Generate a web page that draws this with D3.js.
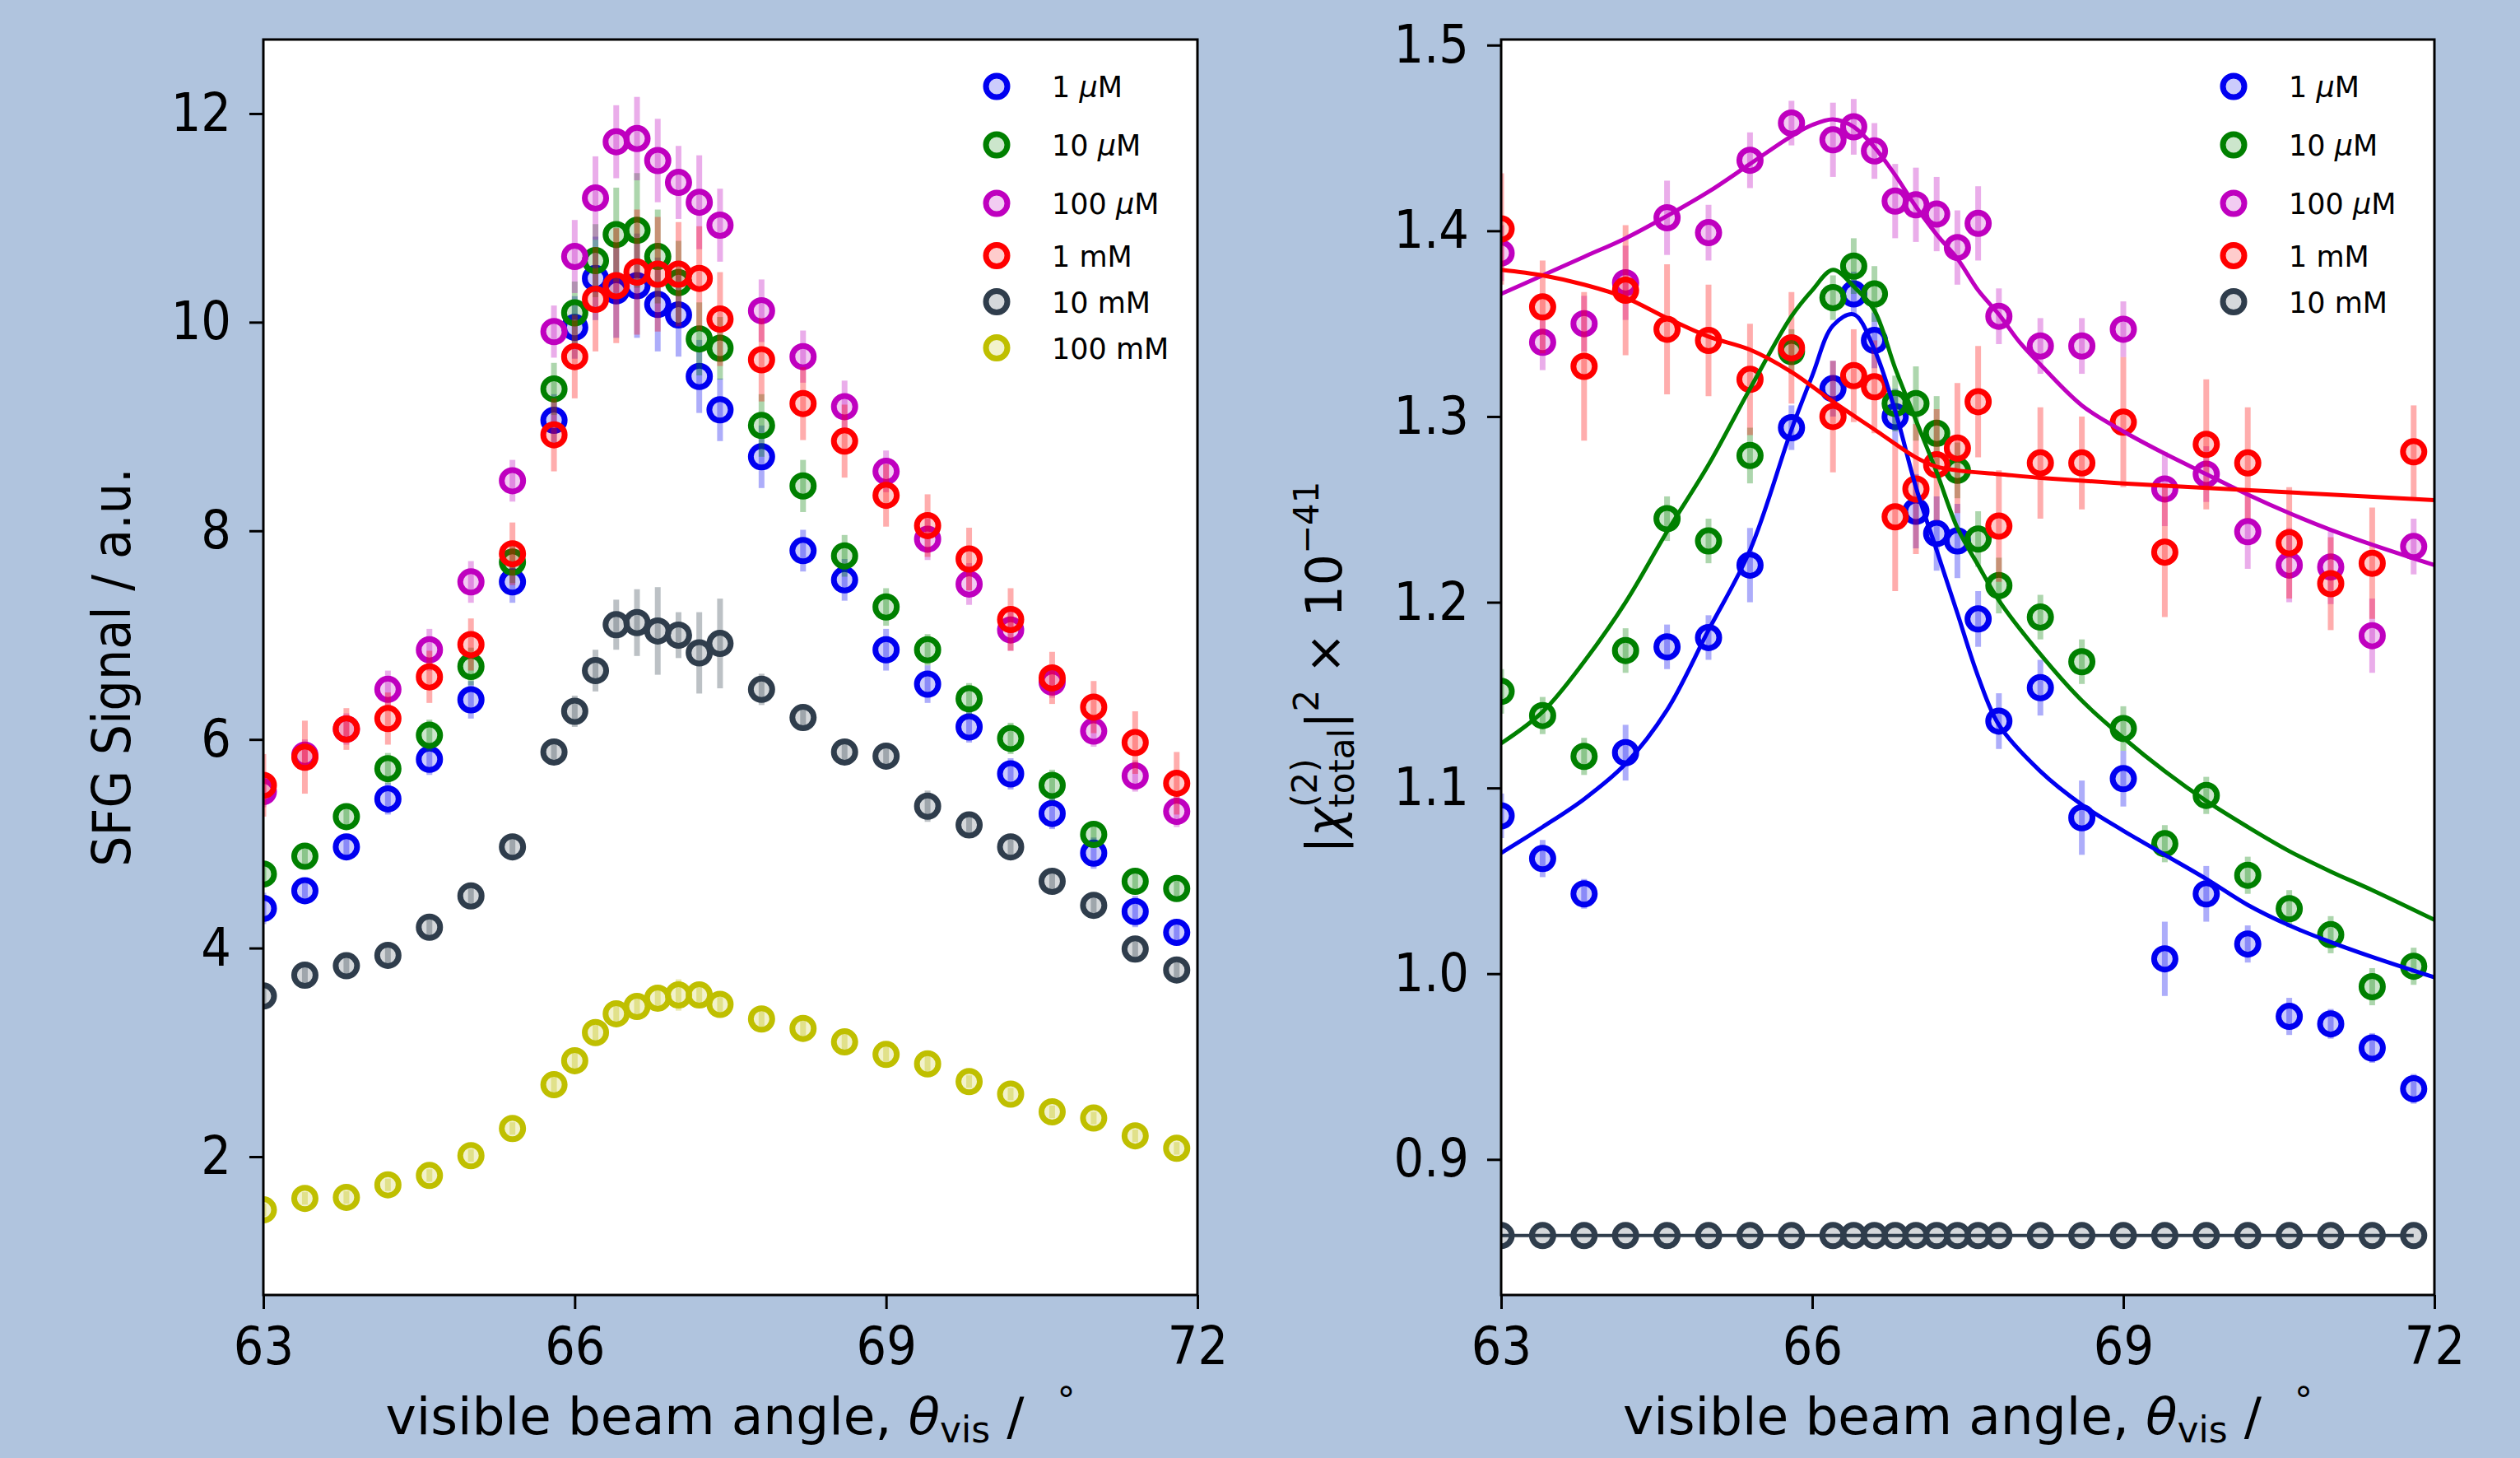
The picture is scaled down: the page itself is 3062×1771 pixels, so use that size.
<!DOCTYPE html>
<html>
<head>
<meta charset="utf-8">
<script src="https://cdn.jsdelivr.net/npm/d3@7"></script>
<style>
  body { margin: 0; background: #b0c4de; }
  svg { display: block; }
  text { font-family: "DejaVu Sans", sans-serif; fill: #000; }
</style>
</head>
<body>
<div id="chart"></div>
<script>
// ---- data: left panel (SFG signal) ----
const xLeft = [63.0, 63.4, 63.8, 64.2, 64.6, 65.0, 65.4, 65.8, 66.0, 66.2, 66.4, 66.6, 66.8, 67.0, 67.2, 67.4, 67.8, 68.2, 68.6, 69.0, 69.4, 69.8, 70.2, 70.6, 71.0, 71.4, 71.8];
const left1uM   = [4.38, 4.55, 4.97, 5.43, 5.81, 6.38, 7.51, 9.06, 9.95, 10.42, 10.30, 10.35, 10.17, 10.07, 9.48, 9.16, 8.71, 7.81, 7.53, 6.86, 6.53, 6.12, 5.67, 5.29, 4.91, 4.35, 4.15];
const left10uM  = [4.71, 4.88, 5.26, 5.72, 6.04, 6.70, 7.70, 9.36, 10.09, 10.59, 10.84, 10.88, 10.63, 10.38, 9.84, 9.75, 9.01, 8.43, 7.76, 7.27, 6.86, 6.39, 6.01, 5.56, 5.09, 4.64, 4.57];
const left100uM = [5.50, 5.85, 6.10, 6.48, 6.86, 7.51, 8.48, 9.91, 10.63, 11.19, 11.73, 11.76, 11.55, 11.34, 11.15, 10.93, 10.11, 9.67, 9.19, 8.57, 7.92, 7.49, 7.05, 6.55, 6.08, 5.65, 5.31];
const left1mM   = [5.56, 5.83, 6.10, 6.20, 6.60, 6.91, 7.78, 8.92, 9.67, 10.22, 10.35, 10.48, 10.46, 10.46, 10.42, 10.03, 9.64, 9.22, 8.86, 8.34, 8.05, 7.73, 7.15, 6.59, 6.31, 5.97, 5.58];
const left10mM  = [3.54, 3.74, 3.83, 3.93, 4.20, 4.50, 4.97, 5.88, 6.27, 6.66, 7.10, 7.12, 7.04, 7.00, 6.83, 6.92, 6.48, 6.21, 5.88, 5.84, 5.36, 5.18, 4.97, 4.64, 4.41, 3.99, 3.79];
const left100mM = [1.49, 1.60, 1.61, 1.73, 1.82, 2.01, 2.27, 2.69, 2.92, 3.19, 3.37, 3.44, 3.52, 3.55, 3.55, 3.46, 3.32, 3.23, 3.10, 2.98, 2.89, 2.72, 2.60, 2.43, 2.37, 2.20, 2.08];

const leftErr1uM   = [0.15, 0.12, 0.12, 0.15, 0.15, 0.18, 0.2, 0.25, 0.3, 0.4, 0.45, 0.5, 0.45, 0.4, 0.35, 0.3, 0.3, 0.2, 0.2, 0.2, 0.18, 0.15, 0.15, 0.15, 0.15, 0.15, 0.12];
const leftErr10uM  = [0.12, 0.12, 0.12, 0.15, 0.15, 0.18, 0.2, 0.25, 0.3, 0.35, 0.45, 0.55, 0.45, 0.4, 0.35, 0.3, 0.3, 0.25, 0.2, 0.18, 0.15, 0.15, 0.15, 0.15, 0.12, 0.12, 0.12];
const leftErr100uM = [0.15, 0.15, 0.15, 0.18, 0.2, 0.2, 0.2, 0.25, 0.35, 0.4, 0.35, 0.4, 0.4, 0.35, 0.45, 0.35, 0.3, 0.25, 0.25, 0.2, 0.2, 0.2, 0.2, 0.15, 0.15, 0.15, 0.15];
const leftErr1mM   = [0.3, 0.35, 0.2, 0.25, 0.25, 0.25, 0.3, 0.35, 0.4, 0.5, 0.55, 0.6, 0.55, 0.5, 0.5, 0.45, 0.4, 0.35, 0.35, 0.3, 0.3, 0.3, 0.3, 0.25, 0.25, 0.3, 0.3];
const leftErr10mM  = [0.08, 0.08, 0.08, 0.1, 0.1, 0.1, 0.12, 0.12, 0.15, 0.2, 0.24, 0.32, 0.42, 0.22, 0.39, 0.43, 0.15, 0.12, 0.12, 0.12, 0.15, 0.12, 0.1, 0.12, 0.12, 0.12, 0.1];
const leftErr100mM = [0.06, 0.06, 0.06, 0.06, 0.06, 0.06, 0.06, 0.08, 0.08, 0.1, 0.1, 0.12, 0.12, 0.15, 0.12, 0.1, 0.08, 0.08, 0.08, 0.08, 0.08, 0.06, 0.06, 0.06, 0.06, 0.06, 0.06];

// ---- data: right panel (|chi|^2) ----
const xRight = [63.0, 63.4, 63.8, 64.2, 64.6, 65.0, 65.4, 65.8, 66.2, 66.4, 66.6, 66.8, 67.0, 67.2, 67.4, 67.6, 67.8, 68.2, 68.6, 69.0, 69.4, 69.8, 70.2, 70.6, 71.0, 71.4, 71.8];
const right1uM   = [1.085, 1.062, 1.043, 1.119, 1.176, 1.181, 1.220, 1.294, 1.315, 1.366, 1.341, 1.300, 1.249, 1.237, 1.233, 1.191, 1.136, 1.154, 1.084, 1.105, 1.008, 1.043, 1.016, 0.977, 0.973, 0.960, 0.938];
const right10uM  = [1.152, 1.139, 1.117, 1.174, 1.245, 1.233, 1.279, 1.335, 1.364, 1.381, 1.366, 1.307, 1.307, 1.291, 1.271, 1.234, 1.209, 1.192, 1.168, 1.132, 1.070, 1.096, 1.053, 1.035, 1.021, 0.993, 1.004];
const right100uM = [1.388, 1.340, 1.350, 1.372, 1.407, 1.399, 1.438, 1.458, 1.449, 1.456, 1.443, 1.416, 1.414, 1.409, 1.391, 1.404, 1.354, 1.338, 1.338, 1.347, 1.261, 1.269, 1.238, 1.220, 1.219, 1.182, 1.230];
const right1mM   = [1.401, 1.359, 1.327, 1.368, 1.347, 1.341, 1.320, 1.337, 1.300, 1.322, 1.316, 1.246, 1.261, 1.274, 1.283, 1.308, 1.241, 1.275, 1.275, 1.297, 1.227, 1.285, 1.275, 1.232, 1.210, 1.221, 1.281];
const right10mM  = [0.859, 0.859, 0.859, 0.859, 0.859, 0.859, 0.859, 0.859, 0.859, 0.859, 0.859, 0.859, 0.859, 0.859, 0.859, 0.859, 0.859, 0.859, 0.859, 0.859, 0.859, 0.859, 0.859, 0.859, 0.859, 0.859, 0.859];

const rightErr1uM   = [0.012, 0.01, 0.008, 0.015, 0.012, 0.012, 0.02, 0.012, 0.015, 0.012, 0.015, 0.015, 0.02, 0.02, 0.02, 0.015, 0.015, 0.015, 0.02, 0.015, 0.02, 0.015, 0.01, 0.01, 0.008, 0.008, 0.008];
const rightErr10uM  = [0.012, 0.01, 0.01, 0.012, 0.012, 0.012, 0.015, 0.012, 0.012, 0.015, 0.015, 0.015, 0.02, 0.02, 0.015, 0.015, 0.015, 0.012, 0.012, 0.012, 0.01, 0.01, 0.01, 0.01, 0.01, 0.01, 0.01];
const rightErr100uM = [0.015, 0.015, 0.015, 0.02, 0.02, 0.015, 0.015, 0.012, 0.02, 0.015, 0.015, 0.02, 0.02, 0.02, 0.02, 0.02, 0.015, 0.015, 0.015, 0.015, 0.02, 0.015, 0.02, 0.02, 0.02, 0.02, 0.015];
const rightErr1mM   = [0.03, 0.025, 0.04, 0.035, 0.035, 0.03, 0.03, 0.03, 0.03, 0.025, 0.025, 0.04, 0.035, 0.03, 0.035, 0.03, 0.03, 0.03, 0.025, 0.035, 0.035, 0.035, 0.03, 0.03, 0.025, 0.03, 0.025];
const rightErr10mM  = [0, 0, 0, 0, 0, 0, 0, 0, 0, 0, 0, 0, 0, 0, 0, 0, 0, 0, 0, 0, 0, 0, 0, 0, 0, 0, 0];

// fitted curves
const fitBlueX  = [63.0, 63.4, 63.8, 64.2, 64.6, 65.0, 65.4, 65.8, 66.0, 66.2, 66.4, 66.6, 66.8, 67.0, 67.2, 67.4, 67.6, 67.8, 68.2, 68.6, 69.0, 69.4, 69.8, 70.2, 70.6, 71.0, 71.4, 72.0];
const fitBlueY  = [1.065, 1.079, 1.094, 1.113, 1.142, 1.185, 1.228, 1.293, 1.322, 1.349, 1.355, 1.336, 1.303, 1.262, 1.228, 1.194, 1.160, 1.134, 1.109, 1.091, 1.077, 1.064, 1.051, 1.037, 1.026, 1.017, 1.009, 0.998];
const fitGreenX = [63.0, 63.4, 63.8, 64.2, 64.6, 65.0, 65.4, 65.8, 66.0, 66.2, 66.4, 66.6, 66.8, 67.0, 67.2, 67.4, 67.6, 67.8, 68.2, 68.6, 69.0, 69.4, 69.8, 70.2, 70.6, 71.0, 71.4, 72.0];
const fitGreenY = [1.124, 1.141, 1.168, 1.200, 1.238, 1.274, 1.315, 1.354, 1.368, 1.379, 1.370, 1.357, 1.326, 1.298, 1.270, 1.240, 1.220, 1.201, 1.172, 1.147, 1.127, 1.109, 1.093, 1.079, 1.066, 1.055, 1.045, 1.029];
const fitMagX   = [63.0, 63.4, 63.8, 64.2, 64.6, 65.0, 65.4, 65.8, 66.0, 66.2, 66.4, 66.6, 66.8, 67.0, 67.2, 67.4, 67.6, 67.8, 68.0, 68.2, 68.6, 69.0, 69.4, 69.8, 70.2, 70.6, 71.0, 71.4, 72.0];
const fitMagY   = [1.366, 1.376, 1.386, 1.396, 1.408, 1.421, 1.436, 1.451, 1.457, 1.460, 1.456, 1.445, 1.430, 1.413, 1.398, 1.385, 1.368, 1.355, 1.340, 1.328, 1.306, 1.292, 1.280, 1.269, 1.258, 1.248, 1.239, 1.231, 1.220];
const fitRedX   = [63.0, 63.4, 63.8, 64.2, 64.6, 65.0, 65.4, 65.8, 66.2, 66.6, 67.0, 67.2, 67.4, 67.8, 68.2, 69.0, 70.0, 71.0, 72.0];
const fitRedY   = [1.379, 1.376, 1.371, 1.364, 1.353, 1.343, 1.336, 1.324, 1.308, 1.293, 1.278, 1.273, 1.271, 1.269, 1.267, 1.264, 1.261, 1.258, 1.255];

const xTicks = [63, 66, 69, 72];
const leftYTicks = [2, 4, 6, 8, 10, 12];
const rightYTicks = [0.9, 1.0, 1.1, 1.2, 1.3, 1.4, 1.5];

const colors = {
    c1uM: "#0000f0", c10uM: "#008000", c100uM: "#bf00bf",
    c1mM: "#ff0000", c10mM: "#2f3d4c", c100mM: "#bfbf00"
};

// ---- layout ----
const W = 3062, H = 1771;
const plotTop = 48, plotBottom = 1573;
const tickScaleX = 0.9;

let svg = d3.select("#chart").append("svg")
    .attr("width", W).attr("height", H);
svg.append("rect").attr("width", W).attr("height", H).attr("fill", "#b0c4de");

// lays out a row of text pieces (used for the mathtext-style labels)
function layoutPieces(g, pieces) {
    let x = 0, stackStart = 0, stackW = 0;
    pieces.forEach(function(p) {
        let t = g.append("text")
            .attr("font-size", p.size)
            .attr("y", p.dy || 0)
            .style("font-style", p.italic ? "italic" : "normal")
            .text(p.t);
        let w = t.node().getComputedTextLength();
        if (p.stack) {
            t.attr("x", stackStart);
            x = stackStart + Math.max(stackW, w);
        } else {
            t.attr("x", x);
            stackStart = x; stackW = w;
            x += w + (p.gap || 0);
        }
    });
    return x;
}

function muLabel(sel, pre) {
    sel.append("tspan").text(pre);
    sel.append("tspan").style("font-style", "italic").text("\u03bc");
    sel.append("tspan").text("M");
}

function drawPanel(cfg) {
    let xScale = d3.scaleLinear().domain([63, 72]).range([cfg.x0, cfg.x1]);
    let yScale = d3.scaleLinear().domain(cfg.yDomain).range([plotBottom, plotTop]);

    svg.append("rect")
        .attr("x", cfg.x0).attr("y", plotTop)
        .attr("width", cfg.x1 - cfg.x0).attr("height", plotBottom - plotTop)
        .attr("fill", "#fff");

    let clipId = "clip_" + cfg.id;
    svg.append("clipPath").attr("id", clipId)
        .append("rect")
        .attr("x", cfg.x0).attr("y", plotTop)
        .attr("width", cfg.x1 - cfg.x0).attr("height", plotBottom - plotTop);

    let plot = svg.append("g").attr("clip-path", "url(#" + clipId + ")");

    // series: error bars then hollow markers
    cfg.series.forEach(function(s) {
        let pts = s.y.map(function(v, i) { return { x: cfg.x[i], y: v, e: s.err[i] }; });
        let g = plot.append("g");
        if (s.line) {
            g.append("path").datum(pts)
                .attr("fill", "none").attr("stroke", s.color).attr("stroke-width", 4)
                .attr("d", d3.line().x(function(d) { return xScale(d.x); }).y(function(d) { return yScale(d.y); }));
        }
        g.selectAll("line.err").data(pts.filter(function(d) { return d.e > 0; })).join("line")
            .attr("class", "err")
            .attr("x1", function(d) { return xScale(d.x); })
            .attr("x2", function(d) { return xScale(d.x); })
            .attr("y1", function(d) { return yScale(d.y - d.e); })
            .attr("y2", function(d) { return yScale(d.y + d.e); })
            .attr("stroke", s.color).attr("stroke-opacity", 0.32).attr("stroke-width", 7);
        g.selectAll("circle").data(pts).join("circle")
            .attr("cx", function(d) { return xScale(d.x); })
            .attr("cy", function(d) { return yScale(d.y); })
            .attr("r", 13)
            .attr("fill", s.color).attr("fill-opacity", 0.2)
            .attr("stroke", s.color).attr("stroke-width", 7);
    });

    // fitted curves
    let curve = d3.line()
        .curve(d3.curveCatmullRom.alpha(0.5))
        .x(function(d) { return xScale(d[0]); })
        .y(function(d) { return yScale(d[1]); });
    (cfg.fits || []).forEach(function(f) {
        plot.append("path")
            .datum(f.x.map(function(v, i) { return [v, f.y[i]]; }))
            .attr("fill", "none").attr("stroke", f.color).attr("stroke-width", 5)
            .attr("d", curve);
    });

    // frame
    svg.append("rect")
        .attr("x", cfg.x0).attr("y", plotTop)
        .attr("width", cfg.x1 - cfg.x0).attr("height", plotBottom - plotTop)
        .attr("fill", "none").attr("stroke", "#000").attr("stroke-width", 3);

    // axes
    let xAxis = svg.append("g")
        .attr("transform", "translate(0," + plotBottom + ")")
        .call(d3.axisBottom(xScale).tickValues(xTicks).tickSize(17).tickPadding(22).tickFormat(d3.format("d")));
    let yAxis = svg.append("g")
        .attr("transform", "translate(" + cfg.x0 + ",0)")
        .call(d3.axisLeft(yScale).tickValues(cfg.yTicks).tickSize(17).tickPadding(22).tickFormat(cfg.yFormat));
    [xAxis, yAxis].forEach(function(ax) {
        ax.select(".domain").remove();
        ax.selectAll(".tick line").attr("stroke", "#000").attr("stroke-width", 3);
        ax.selectAll(".tick text")
            .attr("font-size", 64)
            .attr("font-family", "DejaVu Sans, sans-serif")
            .attr("fill", "#000");
    });
    xAxis.selectAll(".tick text").attr("transform", "scale(" + tickScaleX + ",1)");
    yAxis.selectAll(".tick text")
        .attr("x", -(17 + 22) / tickScaleX)
        .attr("transform", "scale(" + tickScaleX + ",1)");

    // x label
    let xl = svg.append("g")
        .attr("transform", "translate(" + ((cfg.x0 + cfg.x1) / 2) + ",1742)");
    let xlInner = xl.append("g");
    let xw = layoutPieces(xlInner, [
        { t: "visible beam angle,\u00a0", size: 63 },
        { t: "\u03b8", size: 63, italic: true },
        { t: "vis", size: 44, dy: 10 },
        { t: "\u00a0/\u00a0\u00a0", size: 63 },
        { t: "\u00b0", size: 44, dy: -26 }
    ]);
    xlInner.attr("transform", "translate(" + (-xw / 2) + ",0)");

    // y label
    let yl = svg.append("g")
        .attr("transform", "translate(" + cfg.yLabelX + "," + ((plotTop + plotBottom) / 2) + ") rotate(-90) scale(" + cfg.yLabelScale + ",1)");
    let ylInner = yl.append("g");
    let yw = layoutPieces(ylInner, cfg.yLabel);
    ylInner.attr("transform", "translate(" + (-yw / 2) + ",0)");

    // legend
    let ly = plotTop + 57;
    let prevH = null;
    cfg.legend.forEach(function(item) {
        let h = item.mu ? 71 : 56;
        if (prevH !== null) ly += (prevH + h) / 2;
        prevH = h;
        svg.append("circle")
            .attr("cx", cfg.x1 - 244).attr("cy", ly).attr("r", 13)
            .attr("fill", item.color).attr("fill-opacity", 0.2)
            .attr("stroke", item.color).attr("stroke-width", 7);
        let t = svg.append("text")
            .attr("x", cfg.x1 - 177).attr("y", ly + 13)
            .attr("font-size", 35);
        if (item.mu) muLabel(t, item.pre); else t.text(item.label);
    });
}

// left panel
drawPanel({
    id: "left", x0: 320, x1: 1455,
    yDomain: [0.674, 12.71], yTicks: leftYTicks, yFormat: d3.format("d"),
    x: xLeft,
    series: [
        { y: left1uM, err: leftErr1uM, color: colors.c1uM },
        { y: left10uM, err: leftErr10uM, color: colors.c10uM },
        { y: left100uM, err: leftErr100uM, color: colors.c100uM },
        { y: left1mM, err: leftErr1mM, color: colors.c1mM },
        { y: left10mM, err: leftErr10mM, color: colors.c10mM },
        { y: left100mM, err: leftErr100mM, color: colors.c100mM }
    ],
    yLabelX: 158, yLabelScale: 0.92,
    yLabel: [{ t: "SFG Signal / a.u.", size: 64 }],
    legend: [
        { mu: true, pre: "1 ", color: colors.c1uM },
        { mu: true, pre: "10 ", color: colors.c10uM },
        { mu: true, pre: "100 ", color: colors.c100uM },
        { label: "1 mM", color: colors.c1mM },
        { label: "10 mM", color: colors.c10mM },
        { label: "100 mM", color: colors.c100mM }
    ]
});

// right panel
drawPanel({
    id: "right", x0: 1824, x1: 2958,
    yDomain: [0.827, 1.503], yTicks: rightYTicks, yFormat: d3.format(".1f"),
    x: xRight,
    series: [
        { y: right1uM, err: rightErr1uM, color: colors.c1uM },
        { y: right10uM, err: rightErr10uM, color: colors.c10uM },
        { y: right100uM, err: rightErr100uM, color: colors.c100uM },
        { y: right1mM, err: rightErr1mM, color: colors.c1mM },
        { y: right10mM, err: rightErr10mM, color: colors.c10mM, line: true }
    ],
    fits: [
        { x: fitBlueX, y: fitBlueY, color: colors.c1uM },
        { x: fitGreenX, y: fitGreenY, color: colors.c10uM },
        { x: fitMagX, y: fitMagY, color: colors.c100uM },
        { x: fitRedX, y: fitRedY, color: colors.c1mM }
    ],
    yLabelX: 1630, yLabelScale: 1,
    yLabel: [
        { t: "|", size: 60 },
        { t: "\u03c7", size: 60, italic: true },
        { t: "(2)", size: 42, dy: -30 },
        { t: "total", size: 42, dy: 15, stack: true },
        { t: "|", size: 60 },
        { t: "2", size: 42, dy: -28 },
        { t: "\u00a0\u00d7\u00a010", size: 60 },
        { t: "\u221241", size: 42, dy: -28 }
    ],
    legend: [
        { mu: true, pre: "1 ", color: colors.c1uM },
        { mu: true, pre: "10 ", color: colors.c10uM },
        { mu: true, pre: "100 ", color: colors.c100uM },
        { label: "1 mM", color: colors.c1mM },
        { label: "10 mM", color: colors.c10mM }
    ]
});
</script>
</body>
</html>
